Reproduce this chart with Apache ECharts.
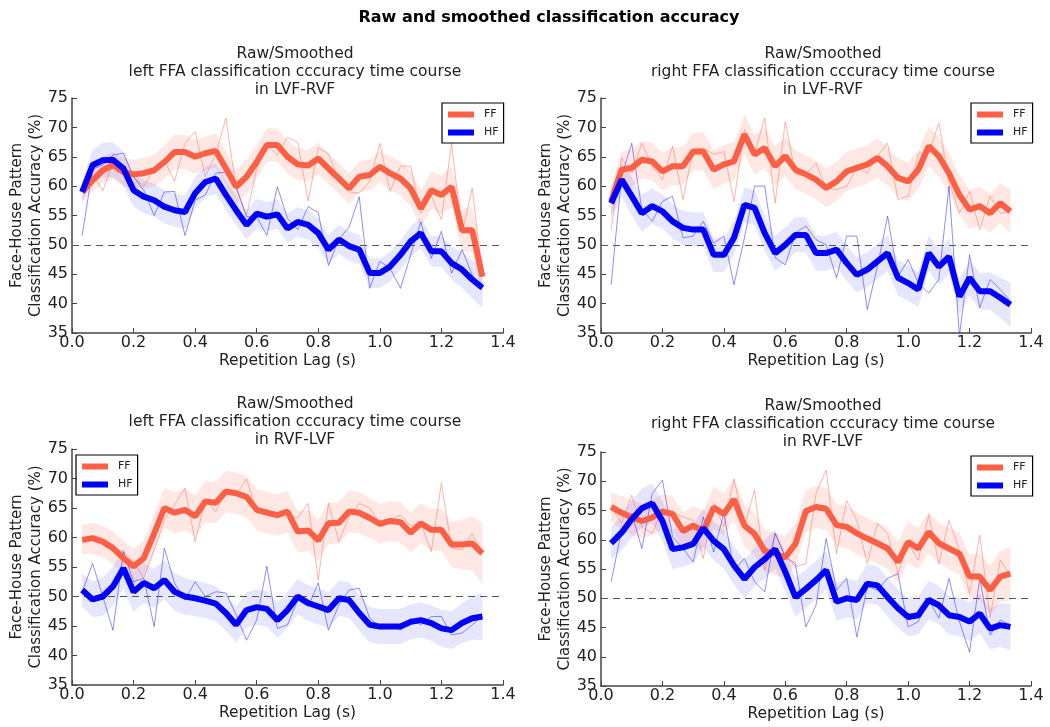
<!DOCTYPE html>
<html>
<head>
<meta charset="utf-8">
<script src="https://cdn.jsdelivr.net/npm/echarts@6/dist/echarts.min.js"></script>
<style>
html, body { margin: 0; padding: 0; background: #fff; }
#chart { width: 1050px; height: 727px; }
</style>
</head>
<body>
<div id="chart"></div>
<script>
// repetition lag (s)
const lags = [0.033, 0.067, 0.100, 0.133, 0.167, 0.200, 0.233, 0.267, 0.300, 0.333,
    0.367, 0.400, 0.433, 0.467, 0.500, 0.533, 0.567, 0.600, 0.633, 0.667,
    0.700, 0.733, 0.767, 0.800, 0.833, 0.867, 0.900, 0.933, 0.967, 1.000,
    1.033, 1.067, 1.100, 1.133, 1.167, 1.200, 1.233, 1.267, 1.300, 1.333];

// left FFA, LVF-RVF
const ffRaw1 = [59.0, 62.0, 59.2, 64.0, 63.0, 61.5, 60.0, 63.0, 64.5, 60.8, 67.3, 69.3, 61.6, 65.5, 71.6, 59.6, 55.0, 63.0, 67.0, 65.3,
    68.3, 67.5, 57.5, 66.5, 65.5, 61.0, 59.0, 58.8, 60.8, 67.3, 59.1, 63.4, 63.4, 55.4, 58.3, 54.3, 67.3, 52.0, 59.7, 44.6];
const ffSmooth1 = [59.0, 61.0, 62.7, 63.6, 62.4, 62.0, 62.2, 62.7, 64.1, 65.8, 65.8, 65.0, 65.6, 66.0, 63.0, 59.9, 61.6, 64.1, 67.0, 67.0,
    65.0, 63.7, 63.5, 64.7, 63.0, 61.3, 59.6, 61.6, 61.9, 63.3, 62.2, 61.3, 59.6, 56.2, 59.3, 58.5, 59.9, 52.5, 52.5, 44.6];
const ffSem1 = [1.5, 2.0, 2.2, 2.3, 2.4, 2.5, 2.6, 2.7, 2.8, 2.9, 2.9, 2.9, 2.9, 2.9, 2.9, 2.9, 2.9, 2.9, 2.8, 2.8,
    2.8, 2.7, 2.7, 2.7, 2.6, 2.6, 2.6, 2.6, 2.6, 2.7, 2.8, 2.9, 3.0, 3.1, 3.2, 3.3, 3.5, 3.6, 3.8, 3.5];
const hfRaw1 = [51.6, 62.9, 63.6, 65.3, 65.6, 61.6, 59.3, 55.0, 59.0, 59.1, 51.6, 57.6, 58.5, 62.2, 62.4, 59.9, 54.8, 54.8, 51.6, 59.9,
    54.5, 52.6, 56.5, 55.5, 46.5, 51.0, 53.0, 58.2, 42.6, 47.2, 46.0, 42.6, 48.3, 53.9, 47.7, 52.3, 45.2, 49.2, 44.9, 42.4];
const hfSmooth1 = [59.0, 63.6, 64.4, 64.5, 63.0, 59.3, 58.2, 57.6, 56.5, 55.9, 55.6, 58.8, 60.7, 61.3, 58.5, 55.9, 53.4, 55.3, 54.8, 55.2,
    52.8, 53.9, 53.4, 52.0, 49.2, 50.9, 49.8, 49.2, 45.2, 45.2, 46.3, 48.3, 50.6, 52.0, 48.9, 48.9, 46.9, 45.8, 44.1, 42.7];
const hfSem1 = [1.8, 2.6, 3.0, 3.0, 2.9, 2.8, 2.8, 2.8, 2.8, 2.8, 2.8, 2.7, 2.6, 2.6, 2.6, 2.5, 2.5, 2.5, 2.5, 2.5,
    2.5, 2.5, 2.5, 2.5, 2.5, 2.5, 2.5, 2.5, 2.5, 2.5, 2.5, 2.5, 2.6, 2.6, 2.6, 2.7, 2.8, 3.0, 3.2, 3.4];

// right FFA, LVF-RVF
const ffRaw2 = [52.6, 64.8, 62.2, 67.3, 63.4, 61.1, 66.8, 57.7, 66.2, 66.5, 65.4, 65.9, 57.4, 69.6, 65.6, 71.6, 57.1, 71.0, 62.0, 62.0,
    63.9, 59.7, 59.4, 60.0, 63.1, 62.2, 65.1, 67.3, 57.7, 58.3, 65.6, 65.6, 70.7, 60.8, 55.4, 59.1, 52.6, 58.3, 55.4, 55.7];
const ffSmooth2 = [57.4, 62.8, 63.1, 64.5, 64.2, 62.5, 63.4, 63.4, 65.9, 65.9, 62.8, 63.7, 64.2, 68.8, 65.4, 66.5, 63.4, 65.1, 62.8, 62.0,
    61.1, 59.7, 60.8, 62.5, 63.1, 63.7, 64.8, 63.4, 61.4, 60.8, 62.8, 66.8, 65.1, 62.2, 58.5, 56.0, 56.6, 55.4, 57.1, 55.7];
const ffSem2 = [2.5, 3.0, 3.2, 3.2, 3.2, 3.2, 3.2, 3.2, 3.2, 3.3, 3.3, 3.3, 3.3, 3.4, 3.4, 3.4, 3.4, 3.4, 3.3, 3.3,
    3.3, 3.3, 3.3, 3.3, 3.3, 3.3, 3.3, 3.3, 3.3, 3.3, 3.3, 3.4, 3.4, 3.4, 3.4, 3.3, 3.3, 3.3, 3.4, 3.6];
const hfRaw2 = [43.2, 61.7, 67.3, 56.0, 54.0, 57.4, 58.3, 51.2, 51.5, 54.0, 50.3, 51.5, 43.2, 51.2, 60.0, 60.0, 47.8, 46.6, 52.0, 53.2,
    50.9, 50.0, 44.4, 51.5, 51.5, 39.0, 46.3, 54.9, 44.6, 47.5, 43.5, 41.8, 44.1, 60.0, 34.5, 48.3, 39.3, 44.1, 42.4, 40.4];
const hfSmooth2 = [57.1, 61.1, 58.3, 55.4, 56.6, 55.7, 54.0, 52.9, 52.6, 52.6, 48.3, 48.3, 51.2, 56.8, 56.3, 52.0, 48.6, 50.0, 51.7, 51.7,
    48.6, 48.6, 49.2, 46.9, 44.9, 45.8, 47.2, 48.6, 44.4, 43.5, 42.4, 48.6, 46.3, 48.0, 41.2, 44.4, 42.1, 42.1, 41.0, 39.8];
const hfSem2 = [2.5, 3.0, 3.2, 3.2, 3.0, 2.9, 2.9, 2.9, 2.9, 2.9, 2.9, 2.9, 2.9, 3.0, 3.0, 3.0, 3.0, 3.0, 3.0, 3.0,
    3.0, 3.0, 3.0, 3.0, 3.0, 3.0, 3.0, 3.0, 3.0, 3.0, 3.0, 3.0, 3.0, 3.0, 3.0, 3.0, 3.1, 3.2, 3.4, 3.8];

// left FFA, RVF-LVF
const ffRaw3 = [59.0, 60.2, 59.3, 58.2, 57.6, 56.0, 53.1, 57.9, 63.0, 65.5, 68.4, 59.3, 66.4, 64.4, 67.8, 67.2, 69.9, 64.4, 64.7, 63.9,
    63.9, 63.3, 65.8, 52.8, 65.8, 59.3, 63.5, 65.8, 65.0, 62.4, 63.0, 63.8, 62.0, 62.4, 57.6, 69.2, 58.2, 57.9, 60.7, 57.3];
const ffSmooth3 = [59.6, 59.9, 59.3, 58.2, 56.5, 55.1, 56.5, 60.7, 65.0, 64.2, 64.7, 63.6, 66.1, 65.9, 67.8, 67.5, 66.9, 64.7, 64.2, 63.8,
    64.4, 61.0, 61.2, 59.5, 62.4, 62.5, 64.4, 64.2, 63.3, 62.3, 62.8, 62.6, 60.8, 62.4, 61.3, 61.3, 58.8, 58.8, 59.0, 57.3];
const ffSem3 = [2.5, 2.6, 2.7, 2.8, 2.9, 3.0, 3.0, 3.2, 3.4, 3.5, 3.5, 3.5, 3.5, 3.5, 3.5, 3.5, 3.5, 3.5, 3.5, 3.5,
    3.5, 3.5, 3.5, 3.5, 3.5, 3.5, 3.5, 3.5, 3.4, 3.4, 3.4, 3.4, 3.4, 3.4, 3.5, 3.6, 3.8, 4.2, 4.6, 5.2];
const hfRaw3 = [50.8, 55.6, 50.0, 44.3, 57.6, 52.5, 53.1, 44.9, 58.2, 52.3, 49.4, 52.5, 50.0, 50.8, 50.6, 46.9, 42.6, 46.0, 55.1, 44.6,
    45.2, 49.4, 48.3, 52.3, 44.3, 48.6, 51.1, 51.4, 46.3, 44.9, 45.2, 44.3, 46.3, 45.2, 46.6, 46.6, 43.5, 43.8, 45.2, 46.6];
const hfSmooth3 = [51.1, 49.5, 50.0, 51.7, 54.8, 50.8, 52.3, 51.4, 52.8, 50.8, 50.0, 49.7, 49.3, 48.8, 47.2, 45.2, 47.7, 48.2, 47.9, 46.0,
    47.7, 50.0, 48.9, 48.3, 47.7, 49.7, 49.4, 47.2, 45.2, 44.9, 44.9, 44.9, 45.7, 46.0, 45.5, 44.6, 44.3, 45.5, 46.3, 46.6];
const hfSem3 = [2.8, 3.0, 3.2, 3.3, 3.4, 3.4, 3.4, 3.3, 3.3, 3.2, 3.1, 3.0, 3.0, 3.0, 3.0, 3.0, 3.0, 3.0, 3.0, 3.0,
    3.0, 3.0, 3.0, 3.0, 3.0, 3.0, 3.0, 3.0, 3.0, 3.0, 3.0, 3.0, 3.0, 3.0, 3.0, 3.1, 3.2, 3.4, 3.6, 4.0];

// right FFA, RVF-LVF
const ffRaw4 = [65.6, 62.8, 67.6, 62.2, 61.1, 65.3, 64.8, 63.9, 63.3, 56.8, 66.2, 62.2, 70.4, 62.2, 68.5, 54.8, 61.1, 57.1, 55.4, 55.9,
    67.9, 71.9, 57.6, 66.7, 63.3, 55.9, 62.8, 61.1, 54.2, 59.4, 56.5, 64.2, 55.9, 63.3, 58.2, 50.8, 60.8, 46.8, 56.5, 53.9];
const ffSmooth4 = [65.6, 64.6, 63.8, 63.2, 63.8, 64.8, 64.4, 61.5, 62.4, 61.5, 65.5, 64.4, 66.9, 62.4, 61.0, 58.1, 57.6, 57.0, 59.3, 64.9,
    65.6, 65.3, 62.5, 62.2, 61.1, 60.2, 59.4, 58.5, 56.2, 59.6, 58.5, 61.3, 59.4, 58.5, 57.6, 53.7, 53.7, 51.4, 53.7, 54.2];
const ffSem4 = [2.5, 2.8, 3.0, 3.0, 3.0, 3.0, 3.0, 3.2, 3.4, 3.5, 3.6, 3.6, 3.6, 3.6, 3.6, 3.6, 3.6, 3.6, 3.6, 3.6,
    3.6, 3.6, 3.6, 3.6, 3.6, 3.5, 3.5, 3.5, 3.5, 3.5, 3.5, 3.5, 3.5, 3.5, 3.6, 3.8, 4.0, 4.2, 4.4, 4.6];
const hfRaw4 = [52.8, 61.6, 64.5, 58.5, 67.9, 70.2, 60.5, 58.5, 56.2, 63.9, 57.9, 64.5, 54.8, 56.8, 52.8, 51.1, 61.1, 57.1, 55.9, 45.1,
    48.8, 60.2, 51.4, 53.4, 43.4, 52.0, 51.4, 53.4, 54.2, 45.1, 46.0, 49.7, 46.6, 53.4, 46.0, 40.8, 53.4, 43.7, 46.3, 45.4];
const hfSmooth4 = [59.4, 61.2, 63.5, 65.4, 66.2, 63.2, 58.4, 58.7, 59.3, 62.0, 59.8, 58.4, 55.6, 53.3, 55.3, 56.7, 58.4, 54.5, 50.2, 51.6,
    53.1, 54.8, 49.4, 50.0, 49.7, 52.5, 52.2, 50.2, 48.3, 46.8, 47.1, 49.7, 48.8, 47.1, 46.8, 46.0, 47.4, 44.8, 45.4, 45.1];
const hfSem4 = [2.8, 3.0, 3.2, 3.3, 3.4, 3.4, 3.4, 3.3, 3.3, 3.3, 3.3, 3.3, 3.3, 3.3, 3.3, 3.3, 3.3, 3.3, 3.3, 3.3,
    3.3, 3.3, 3.3, 3.3, 3.3, 3.3, 3.3, 3.3, 3.3, 3.3, 3.3, 3.3, 3.3, 3.3, 3.3, 3.3, 3.4, 3.5, 3.7, 4.0];

const mainTitle = "Raw and smoothed classification accuracy";
const panelTitles = [
    "Raw/Smoothed\nleft FFA classification cccuracy time course\nin LVF-RVF",
    "Raw/Smoothed\nright FFA classification cccuracy time course\nin LVF-RVF",
    "Raw/Smoothed\nleft FFA classification cccuracy time course\nin RVF-LVF",
    "Raw/Smoothed\nright FFA classification cccuracy time course\nin RVF-LVF",
];
const legendNames = ["FF", "HF"];

const FONT = "DejaVu Sans";
const ffColor = "#fc5f44";
const hfColor = "#0000ff";

const panels = [
    { grid: { left: 72, top: 98, width: 431, height: 235 }, titleX: 290, titleTop: 40,
      legend: { left: 442, top: 103 },
      ff: [ffRaw1, ffSmooth1, ffSem1], hf: [hfRaw1, hfSmooth1, hfSem1] },
    { grid: { left: 601, top: 98, width: 430, height: 235 }, titleX: 818, titleTop: 40,
      legend: { left: 971, top: 103 },
      ff: [ffRaw2, ffSmooth2, ffSem2], hf: [hfRaw2, hfSmooth2, hfSem2] },
    { grid: { left: 72, top: 449, width: 431, height: 236 }, titleX: 290, titleTop: 390,
      legend: { left: 76, top: 455 },
      ff: [ffRaw3, ffSmooth3, ffSem3], hf: [hfRaw3, hfSmooth3, hfSem3] },
    { grid: { left: 601, top: 452, width: 430, height: 234 }, titleX: 818, titleTop: 392,
      legend: { left: 971, top: 456 },
      ff: [ffRaw4, ffSmooth4, ffSem4], hf: [hfRaw4, hfSmooth4, hfSem4] },
];

let option = {
    animation: false,
    textStyle: { fontFamily: FONT },
    title: [{
        text: mainTitle,
        left: 544,
        top: 5,
        textAlign: "center",
        textStyle: { fontSize: 16, fontWeight: "bold", color: "#000", fontFamily: FONT },
    }],
    legend: [],
    grid: [],
    xAxis: [],
    yAxis: [],
    series: [],
};

const pairs = (ys) => lags.map((x, i) => [x, ys[i]]);

const bandFn = (idx, name, smooth, sem, fill) => ({
    type: "custom",
    name: name,
    xAxisIndex: idx,
    yAxisIndex: idx,
    silent: true,
    z: 1,
    data: [[lags[0], smooth[0]]],
    renderItem: (params, api) => {
        const upper = lags.map((x, i) => api.coord([x, smooth[i] + sem[i]]));
        const lower = lags.map((x, i) => api.coord([x, smooth[i] - sem[i]])).reverse();
        return {
            type: "polygon",
            shape: { points: upper.concat(lower) },
            style: { fill: fill },
        };
    },
});

const lineFn = (idx, name, ys, color, width, z) => ({
    type: "line",
    name: name,
    xAxisIndex: idx,
    yAxisIndex: idx,
    data: pairs(ys),
    showSymbol: false,
    symbol: "none",
    silent: true,
    z: z,
    lineStyle: { color: color, width: width },
    itemStyle: { color: color },
});

panels.forEach((p, idx) => {
    option.title.push({
        text: panelTitles[idx],
        left: p.titleX,
        top: p.titleTop,
        textAlign: "center",
        textStyle: { fontSize: 15.5, fontWeight: "normal", color: "#222", lineHeight: 18, fontFamily: FONT },
    });
    option.grid.push(p.grid);
    option.legend.push({
        data: legendNames,
        orient: "vertical",
        left: p.legend.left,
        top: p.legend.top,
        icon: "rect",
        itemWidth: 26,
        itemHeight: 6,
        itemGap: 7,
        padding: [6, 5, 5, 6],
        borderColor: "#000",
        borderWidth: 1.2,
        selectedMode: false,
        textStyle: { fontSize: 11, color: "#222", fontFamily: FONT, padding: [0, 0, 0, 5] },
    });
    option.xAxis.push({
        type: "value",
        gridIndex: idx,
        min: 0,
        max: 1.4,
        interval: 0.2,
        name: "Repetition Lag (s)",
        nameLocation: "middle",
        nameGap: 20,
        nameTextStyle: { fontSize: 15.5, color: "#222" },
        axisLine: { show: true, onZero: false, lineStyle: { color: "#444", width: 1.5 } },
        axisTick: { show: true, inside: true, length: 5, lineStyle: { color: "#444" } },
        axisLabel: { fontSize: 16, color: "#222", margin: 2, formatter: (v) => v.toFixed(1) },
        splitLine: { show: false },
    });
    option.yAxis.push({
        type: "value",
        gridIndex: idx,
        min: 35,
        max: 75,
        interval: 5,
        name: "Face-House Pattern\nClassification Accuracy (%)",
        nameLocation: "middle",
        nameGap: 26,
        nameMoveOverlap: false,
        nameTextStyle: { fontSize: 15, color: "#222", lineHeight: 19 },
        axisLine: { show: true, onZero: false, lineStyle: { color: "#444", width: 1.5 } },
        axisTick: { show: true, inside: true, length: 5, lineStyle: { color: "#444" } },
        axisLabel: { fontSize: 16, color: "#222", margin: 4 },
        splitLine: { show: false },
    });

    const [ffRaw, ffSmooth, ffSem] = p.ff;
    const [hfRaw, hfSmooth, hfSem] = p.hf;

    option.series.push(bandFn(idx, "FF band", ffSmooth, ffSem, "rgba(255,110,90,0.17)"));
    const ffRawLine = lineFn(idx, "FF raw", ffRaw, "rgba(252,120,100,0.55)", 1, 2);
    ffRawLine.markLine = {
        silent: true,
        symbol: "none",
        label: { show: false },
        lineStyle: { type: [7, 5], color: "#555", width: 1 },
        data: [{ yAxis: 50 }],
    };
    option.series.push(ffRawLine);
    option.series.push(lineFn(idx, "FF", ffSmooth, ffColor, 6, 4));

    option.series.push(bandFn(idx, "HF band", hfSmooth, hfSem, "rgba(90,90,255,0.15)"));
    option.series.push(lineFn(idx, "HF raw", hfRaw, "rgba(50,50,255,0.55)", 1, 3));
    option.series.push(lineFn(idx, "HF", hfSmooth, hfColor, 6, 5));
});

const myChart = echarts.init(document.getElementById("chart"), null, { renderer: "canvas" });
myChart.setOption(option);
</script>
</body>
</html>
